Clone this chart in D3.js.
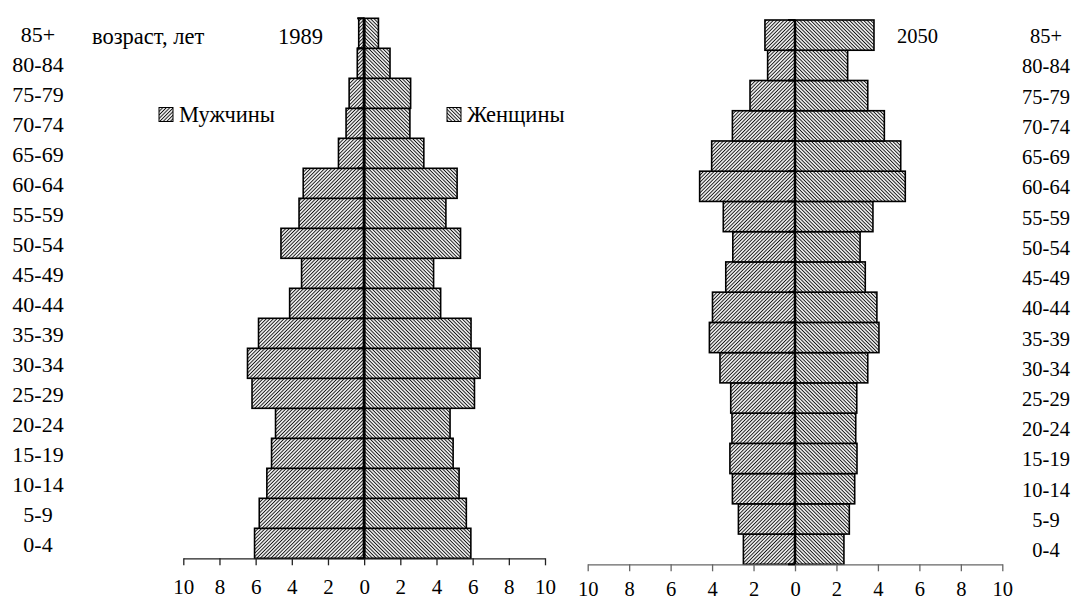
<!DOCTYPE html>
<html><head><meta charset="utf-8">
<script src="https://cdn.jsdelivr.net/npm/d3@7"></script>
<style>
html,body{margin:0;padding:0;background:#fff;}
svg text{font-family:"Liberation Serif","Times New Roman",serif;fill:#000;}
</style></head>
<body><svg id="c" width="1075" height="604"></svg>
<script>
const ages = ["0-4","5-9","10-14","15-19","20-24","25-29","30-34","35-39","40-44","45-49","50-54","55-59","60-64","65-69","70-74","75-79","80-84","85+"];
const male1989   = [6.06,5.80,5.38,5.12,4.90,6.20,6.45,5.84,4.12,3.46,4.60,3.60,3.37,1.42,1.00,0.83,0.38,0.30];
const female1989 = [5.90,5.65,5.25,4.92,4.75,6.10,6.41,5.91,4.23,3.84,5.33,4.52,5.14,3.30,2.53,2.57,1.43,0.79];
const male2050   = [2.49,2.73,3.02,3.14,3.04,3.10,3.62,4.13,3.98,3.34,3.00,3.46,4.60,4.02,3.02,2.17,1.32,1.45];
const female2050 = [2.36,2.62,2.88,2.99,2.93,2.98,3.51,4.05,3.95,3.39,3.14,3.76,5.32,5.10,4.31,3.51,2.54,3.81];
const tickVals = [-10,-8,-6,-4,-2,0,2,4,6,8,10];
const seriesNames = ["Мужчины","Женщины"];
const yAxisTitle = "возраст, лет";
const years = ["1989","2050"];
const FONT = '"Liberation Serif","Times New Roman",serif';

const svg = d3.select("#c");
const defs = svg.append("defs");
function hatch(id, angle){
  const s = 2.5;
  const p = defs.append("pattern").attr("id",id).attr("patternUnits","userSpaceOnUse")
    .attr("width",s).attr("height",s).attr("patternTransform",`rotate(${angle})`);
  p.append("rect").attr("width",s).attr("height",s).attr("fill","#fff");
  p.append("line").attr("x1",s/2).attr("x2",s/2).attr("y1",0).attr("y2",s)
    .attr("stroke","#111").attr("stroke-width",1.0);
}
hatch("hm",45);
hatch("hf",-45);

function pyramid(cfg){
  const x = d3.scaleLinear().domain([-10,10]).range([cfg.x0,cfg.x1]);
  const y = d3.scaleBand().domain(ages).range([cfg.yBottom,cfg.yTop]).padding(0);
  const g = svg.append("g");
  g.selectAll(".m").data(ages).join("rect")
    .attr("x",(d,i)=>x(-cfg.male[i])).attr("width",(d,i)=>x(0)-x(-cfg.male[i]))
    .attr("y",d=>y(d)).attr("height",y.bandwidth())
    .attr("fill","url(#hm)").attr("stroke","#000").attr("stroke-width",1.6);
  g.selectAll(".f").data(ages).join("rect")
    .attr("x",x(0)).attr("width",(d,i)=>x(cfg.female[i])-x(0))
    .attr("y",d=>y(d)).attr("height",y.bandwidth())
    .attr("fill","url(#hf)").attr("stroke","#000").attr("stroke-width",1.6);
  const ax = g.append("g").attr("transform",`translate(0,${cfg.yBottom})`)
    .call(d3.axisBottom(x).tickValues(tickVals).tickFormat(d=>Math.abs(d)).tickSize(7).tickSizeOuter(0).tickPadding(cfg.tickPad));
  ax.attr("font-family",FONT);
  ax.select(".domain").attr("stroke",cfg.axisColor).attr("stroke-width",1.3);
  ax.selectAll(".tick line").attr("stroke",cfg.axisColor).attr("stroke-width",1.3);
  ax.selectAll("text").style("font-family",FONT)
    .style("font-size",cfg.tickFont+"px").attr("fill","#000");
  const bounds = ages.map(a=>y(a)).concat([cfg.yBottom]);
  g.selectAll(".yt").data(bounds).join("line")
    .attr("x1",x(0)-7).attr("x2",x(0)).attr("y1",d=>d).attr("y2",d=>d)
    .attr("stroke","#000").attr("stroke-width",2);
  g.append("line").attr("x1",x(0)).attr("x2",x(0)).attr("y1",cfg.yTop).attr("y2",cfg.yBottom)
    .attr("stroke","#000").attr("stroke-width",cfg.centerW);
  g.selectAll(".al").data(ages).join("text")
    .attr("x",cfg.labelX).attr("y",d=>y(d)+y.bandwidth()/2+cfg.labelDy)
    .attr("text-anchor","middle").style("font-size",cfg.labelFont+"px").text(d=>d);
  return {x,y};
}

pyramid({x0:183.3,x1:545,yTop:18.3,yBottom:558.3,male:male1989,female:female1989,
  axisColor:"#222",tickFont:21,tickPad:14,centerW:3,labelX:38,labelDy:9,labelFont:22});
pyramid({x0:587.7,x1:1002.3,yTop:20,yBottom:564.3,male:male2050,female:female2050,
  axisColor:"#666",tickFont:20.5,tickPad:10,centerW:2.5,labelX:1046,labelDy:8,labelFont:20.5});

svg.append("text").attr("x",92).attr("y",44).style("font-size","22.5px").text(yAxisTitle);
svg.append("text").attr("x",278).attr("y",44).style("font-size","22.5px").text(years[0]);
svg.append("text").attr("x",897).attr("y",43).style("font-size","20.5px").text(years[1]);

const leg = [{name:seriesNames[0],fill:"url(#hm)",x:159},{name:seriesNames[1],fill:"url(#hf)",x:447}];
leg.forEach(l=>{
  svg.append("rect").attr("x",l.x).attr("y",107.5).attr("width",14).attr("height",14)
    .attr("fill",l.fill).attr("stroke","#000").attr("stroke-width",1);
  svg.append("text").attr("x",l.x+20).attr("y",121.5).style("font-size","22.5px").text(l.name);
});
</script></body></html>
